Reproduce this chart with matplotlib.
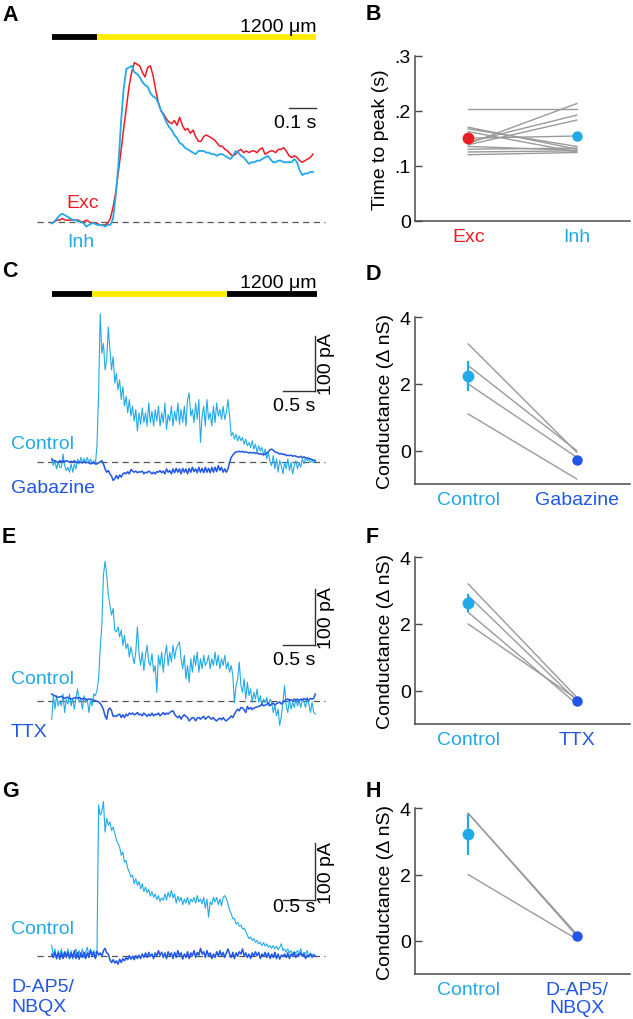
import numpy as np
import matplotlib
matplotlib.use('Agg')
import matplotlib.pyplot as plt

plt.rcParams['font.family'] = ['Liberation Sans', 'DejaVu Sans']
plt.rcParams['font.size'] = 14

W, H = 633, 1020

RED = '#ec1c24'
CYAN = '#22aae8'
BLUE = '#2156e6'
GRAY = '#9a9a9a'
AXC = '#4a4a4a'
LBL = 15.5

# ── Data ──────────────────────────────────────────────────────────────────────

# A: normalised Exc / Inh currents, 10 ms sampling
DT_A = 0.01
exc_a = [-0.01, 0.00, 0.01, 0.01, 0.02, 0.01, 0.01, 0.01, 0.01, 0.01,
         0.01, 0.00, 0.00, 0.01, 0.00, -0.01, -0.01, -0.01, -0.02, -0.02,
         -0.02, -0.01, 0.02, 0.09, 0.18, 0.31, 0.44, 0.58, 0.71, 0.84,
         0.93, 0.99, 0.98, 0.97, 0.93, 0.90, 0.96, 0.97, 0.91, 0.82,
         0.74, 0.69, 0.67, 0.64, 0.62, 0.61, 0.63, 0.60, 0.65, 0.60,
         0.57, 0.58, 0.55, 0.57, 0.53, 0.50, 0.50, 0.53, 0.54, 0.53,
         0.52, 0.51, 0.49, 0.47, 0.47, 0.45, 0.44, 0.42, 0.41, 0.42,
         0.44, 0.45, 0.43, 0.44, 0.43, 0.44, 0.44, 0.43, 0.45, 0.46,
         0.42, 0.43, 0.44, 0.44, 0.43, 0.45, 0.45, 0.46, 0.44, 0.41,
         0.40, 0.41, 0.40, 0.38, 0.37, 0.38, 0.39, 0.40, 0.42]
inh_a = [-0.01, 0.00, 0.02, 0.04, 0.05, 0.04, 0.03, 0.02, 0.01, 0.01,
         0.00, 0.00, -0.01, -0.03, -0.02, -0.01, -0.01, -0.02, -0.02, -0.02,
         -0.03, -0.02, -0.02, 0.02, 0.16, 0.35, 0.62, 0.83, 0.95, 0.96,
         0.97, 0.93, 0.92, 0.90, 0.87, 0.85, 0.84, 0.80, 0.78, 0.77,
         0.74, 0.69, 0.66, 0.62, 0.59, 0.57, 0.54, 0.52, 0.49, 0.48,
         0.46, 0.45, 0.44, 0.43, 0.42, 0.44, 0.44, 0.44, 0.43, 0.43,
         0.42, 0.42, 0.41, 0.42, 0.42, 0.41, 0.40, 0.39, 0.41, 0.44,
         0.43, 0.41, 0.40, 0.38, 0.36, 0.37, 0.37, 0.38, 0.38, 0.39,
         0.40, 0.41, 0.39, 0.37, 0.37, 0.38, 0.38, 0.37, 0.37, 0.37,
         0.37, 0.39, 0.37, 0.32, 0.29, 0.30, 0.30, 0.31, 0.31]
STIM_A = (0.0, 0.17, 0.99)          # dark until 0.17 s, then light

# B: time to peak (s)
tpk_exc = [0.203, 0.170, 0.167, 0.162, 0.150, 0.143, 0.140, 0.138, 0.135, 0.130, 0.125, 0.120]
tpk_inh = [0.203, 0.130, 0.135, 0.125, 0.154, 0.192, 0.213, 0.183, 0.128, 0.132, 0.127, 0.124]
tpk_mean = [0.150, 0.154]
tpk_err = [0.0, 0.0]

# C/E/G: currents (pA), 25 ms sampling
DT = 0.025
ctrl_c = [6, -6, 3, -12, 0, -9, -9, 15, -6, -15, -9, -18, -3, -18, -3, -12, 6, -3, 9, -1,
          7, 0, 9, -1, 6, -3, 3, -3, 30, 126, 270, 198, 216, 168, 186, 246, 204, 168, 192, 144,
          162, 132, 150, 114, 138, 102, 120, 90, 114, 84, 102, 75, 96, 57, 90, 69, 99, 72, 90, 66,
          108, 72, 93, 66, 96, 75, 102, 66, 90, 72, 108, 60, 87, 75, 102, 66, 93, 75, 108, 69,
          96, 72, 102, 66, 114, 126, 84, 96, 72, 108, 78, 114, 36, 84, 102, 66, 114, 78, 90, 66,
          102, 72, 108, 84, 96, 78, 102, 78, 90, 114, 84, 48, 54, 42, 51, 39, 48, 39, 45, 33,
          42, 30, 36, 27, 39, 24, 33, 18, 30, 21, 27, 12, 24, 6, 18, 0, -6, 12, -12, 6,
          -18, 3, -6, -21, 0, -12, 6, -15, 0, -21, -6, 3, -12, 0, -9, 6, -3, 9, 3, 6,
          0, 3, -1, 3]
gbz_c = [6, 3, 3, 1, 0, 3, 1, 3, 1, 3, 2, 0, 2, 0, 3, 0, -1, 1, 0, -1,
         1, -1, 0, -1, -3, -1, -1, -3, -3, -1, 1, 3, -3, -12, -18, -15, -21, -25, -33, -30,
         -24, -30, -23, -27, -21, -19, -21, -17, -21, -13, -16, -18, -16, -19, -17, -18, -16, -21, -18, -19,
         -16, -18, -21, -18, -21, -17, -18, -15, -19, -16, -21, -12, -18, -15, -21, -12, -19, -11, -18, -12,
         -21, -11, -18, -12, -21, -11, -18, -9, -17, -12, -19, -9, -18, -11, -19, -9, -18, -11, -19, -9,
         -18, -9, -17, -6, -15, -9, -18, -12, -18, -12, 0, 9, 13, 17, 19, 19, 20, 19, 20, 18,
         19, 18, 17, 18, 17, 18, 16, 17, 15, 16, 14, 15, 14, 17, 19, 23, 24, 22, 19, 18,
         17, 15, 16, 14, 15, 12, 13, 12, 13, 11, 12, 11, 10, 9, 11, 8, 10, 8, 8, 7,
         6, 5, 4, 3]
STIM_C = (0.0, 0.62, 2.71, 4.1)     # dark, light, dark

ctrl_e = [-32, 10, -14, 10, -8, 1, -8, 13, -20, 4, -5, 13, -8, 4, -14, 7, 22, -2, 4, -14,
          10, -2, 4, -20, 1, -8, 13, 10, 19, 40, 94, 136, 226, 250, 226, 190, 172, 154, 166, 127,
          124, 133, 115, 127, 100, 118, 94, 103, 79, 97, 82, 67, 88, 133, 85, 64, 88, 55, 82, 100,
          70, 64, 85, 52, 64, 16, 82, 64, 88, 52, 82, 100, 64, 88, 70, 100, 76, 94, 100, 106,
          76, 58, 82, 40, 64, 34, 76, 52, 82, 64, 88, 52, 76, 58, 82, 64, 70, 82, 58, 76,
          64, 88, 64, 82, 58, 76, 64, 82, 58, 70, 52, 64, 46, -2, 28, 40, 70, 28, 16, 40,
          4, 34, 10, 22, -2, 16, 4, 22, -2, 10, -8, 4, -2, 7, -8, 4, -2, -20, -8, -26,
          -14, -43, -26, -2, 28, -8, -20, 4, -14, -2, -11, 4, -8, 1, -11, 4, -2, -11, 7, -5,
          -20, -2, -20, -23]
ttx_e = [13, 11, 10, 8, 7, 8, 9, 7, 5, 7, 7, 5, 4, 5, 6, 7, 5, 7, 5, 4,
         5, 4, 3, 4, 4, 3, 2, 1, 0, -1, -4, -8, -15, -26, -32, -15, -12, -17, -27, -26,
         -27, -24, -23, -29, -24, -29, -23, -26, -21, -23, -21, -24, -23, -20, -24, -23, -26, -21, -24, -27,
         -23, -26, -21, -26, -23, -24, -21, -26, -23, -20, -24, -21, -23, -20, -18, -17, -23, -27, -29, -26,
         -32, -27, -24, -27, -29, -35, -32, -29, -30, -35, -30, -29, -32, -29, -27, -32, -29, -27, -30, -32,
         -29, -33, -35, -32, -30, -33, -29, -33, -35, -32, -30, -26, -29, -23, -18, -14, -17, -11, -12, -15,
         -20, -9, -14, -11, -15, -12, -11, -10, -9, -8, -5, -8, -7, -5, -3, -8, -5, -3, -7, -4,
         -3, -1, -5, -2, 1, 3, 4, 1, 3, 1, 4, 2, 4, 1, 4, 2, 5, 3, 4, 2,
         5, 4, 5, 13]

ctrl_g = [19, 1, 13, -5, 10, 1, 13, -2, 7, 1, 13, -2, 10, -5, 7, 13, -2, 10, 1, 13,
          -2, 7, 16, 1, 13, 4, 10, 6, 7, 267, 249, 255, 273, 219, 243, 231, 237, 222, 228, 217,
          205, 199, 193, 178, 184, 166, 169, 155, 149, 140, 143, 128, 137, 125, 132, 119, 128, 114, 122, 112,
          118, 106, 114, 104, 110, 100, 107, 97, 103, 99, 110, 99, 113, 104, 116, 103, 110, 94, 106, 97,
          104, 91, 101, 94, 104, 91, 101, 96, 104, 94, 107, 96, 101, 93, 104, 85, 101, 69, 96, 91,
          104, 96, 104, 91, 101, 89, 104, 107, 102, 93, 81, 75, 66, 67, 57, 60, 53, 55, 48, 50,
          44, 37, 31, 34, 28, 31, 25, 28, 22, 25, 19, 24, 18, 22, 16, 19, 14, 19, 13, 18,
          12, 16, 22, 10, 13, 7, 13, 6, 10, 4, 8, 6, 10, 4, 13, 1, 7, 4, 10, -2,
          6, 2, 4, 1]
nbqx_g = [4, -2, 7, -4, 6, -5, 6, -4, 8, -2, 7, -4, 6, -2, 10, -4, 7, -5, 6, -2,
          7, -4, 6, -2, 10, 1, 7, -4, 9, 2, 6, 0, 10, 14, 6, 4, -6, -11, -6, -12,
          -8, -14, -5, -11, -4, -8, -2, -6, 1, -5, 0, -6, 1, -4, 2, -4, 4, -2, 6, -2,
          7, 0, 4, -4, 6, 1, 10, 2, 7, -2, 6, -4, 8, 1, 6, -4, 7, -2, 10, 1,
          6, -5, 4, -2, 8, -4, 6, 1, 10, -2, 7, 2, 14, 4, 8, -2, 10, 1, 6, -4,
          4, -2, 8, 0, 10, 1, 7, -2, 6, 13, 4, -2, 7, -4, 6, 0, 8, 4, 13, 1,
          6, -2, 4, -4, 6, 0, 8, 1, 7, -4, 4, 0, 7, -2, 6, -4, 4, -2, 7, -4,
          4, -5, 2, 0, 4, -2, 6, -4, 4, 0, 7, -2, 4, 1, 6, 0, 4, -4, 2, 0,
          4, -2, 2, 0]

# D/F/H: conductance (delta nS)
cond_d = ([3.2, 2.55, 2.0, 1.1], [-0.05, 0.0, -0.2, -0.85])
mean_d, err_d = [2.25, -0.28], [0.45, 0.1]
cond_f = ([3.2, 2.85, 2.35, 2.0], [-0.2, -0.3, -0.4, -0.25])
mean_f, err_f = [2.62, -0.3], [0.27, 0.07]
cond_h = ([3.85, 3.85, 2.0], [0.2, 0.15, 0.05])
mean_h, err_h = [3.22, 0.14], [0.62, 0.05]


# ── Layout helpers (pixel boxes) ──────────────────────────────────────────────

fig = plt.figure(figsize=(W / 100, H / 100), dpi=100)


def rect(x0, y0, x1, y1):
    return [x0 / W, 1 - y1 / H, (x1 - x0) / W, (y1 - y0) / H]


def ptext(x, y, s, **kw):
    kw.setdefault('va', 'baseline')
    return fig.text(x / W, 1 - y / H, s, **kw)


def trace_axes(box, xlim, ylim):
    ax = fig.add_axes(rect(*box))
    ax.set_xlim(*xlim)
    ax.set_ylim(*ylim)
    ax.axis('off')
    return ax


def baseline(ax, x0, x1):
    ax.axhline(0, xmin=x0, xmax=x1, color='#555555', lw=0.9,
               dashes=(5, 3.5), clip_on=False, zorder=0)


def stim_bar(ax, edges, colors, y):
    for (a, b), c in zip(zip(edges[:-1], edges[1:]), colors):
        ax.plot([a, b], [y, y], color=c, lw=4.2, solid_capstyle='butt', clip_on=False)


def scale_bar(ax, t1, tlen, y0, ylen=None):
    ax.plot([t1 - tlen, t1], [y0, y0], color='#333333', lw=1.0, clip_on=False)
    if ylen is not None:
        ax.plot([t1, t1], [y0, y0 + ylen], color='#333333', lw=1.0, clip_on=False)


def summary(box, a, b, means, errs, colors, ylim, yticks, yticklabels, xlabels, ylabel):
    ax = fig.add_axes(rect(*box))
    for c, d in zip(a, b):
        ax.plot([0, 1], [c, d], color=GRAY, lw=1.0, zorder=1)
    for i in range(2):
        ax.errorbar(i, means[i], yerr=errs[i], fmt='o', color=colors[i],
                    ms=7.5 if i == 0 else 6.5, elinewidth=1.6, capsize=0, zorder=3)
    ax.set_xlim(-0.49, 1.49)
    ax.set_ylim(*ylim)
    ax.set_yticks(yticks)
    ax.set_yticklabels(yticklabels)
    ax.set_xticks([0, 1])
    ax.set_xticklabels(xlabels, linespacing=1.1)
    for lab, c in zip(ax.get_xticklabels(), colors):
        lab.set_color(c)
    ax.tick_params(axis='x', length=0, pad=5)
    ax.tick_params(axis='y', direction='in', length=5, width=1.0, color=AXC, pad=3)
    for s in ('top', 'right'):
        ax.spines[s].set_visible(False)
    for s in ('left', 'bottom'):
        ax.spines[s].set_color(AXC)
        ax.spines[s].set_linewidth(1.1)
    ax.set_ylabel(ylabel, labelpad=4)
    return ax


# ── A ────────────────────────────────────────────────────────────────────────
t_a = np.arange(len(exc_a)) * DT_A
ax = trace_axes((51.7, 62, 313, 222.7), (t_a[0], t_a[-1]), (0, 1))
baseline(ax, -0.057, 1.045)
ax.plot(t_a, exc_a, color=RED, lw=1.1, clip_on=False)
ax.plot(t_a, inh_a, color=CYAN, lw=1.3, clip_on=False)
stim_bar(ax, STIM_A, ['black', '#ffec00'], 1.15)
scale_bar(ax, 0.99, 0.1, 0.71)
ptext(316, 31.7, '1200 \u03bcm', ha='right')
ptext(316, 128, '0.1 s', ha='right')
ptext(66, 208, 'Exc', color=RED)
ptext(67, 246.7, 'Inh', color=CYAN)
ptext(2, 20.7, 'A', fontweight='bold', fontsize=LBL)

# ── B ────────────────────────────────────────────────────────────────────────
summary((415, 56.7, 630, 221.7), tpk_exc, tpk_inh, tpk_mean, tpk_err, [RED, CYAN],
        (0, 0.3), [0, 0.1, 0.2, 0.3], ['0', '.1', '.2', '.3'], ['Exc', 'Inh'],
        'Time to peak (s)')
ptext(366, 20.5, 'B', fontweight='bold', fontsize=LBL)

# ── C / E / G traces ─────────────────────────────────────────────────────────
t = np.arange(len(ctrl_c)) * DT


def drug_trace(base, ppa, ctrl, drug, ylim):
    box = (51.7, base - ylim[1] * ppa, 315.3, base - ylim[0] * ppa)
    ax = trace_axes(box, (t[0], t[-1]), ylim)
    baseline(ax, -0.056, 1.037)
    ax.plot(t, ctrl, color=CYAN, lw=0.8, clip_on=False, zorder=2)
    ax.plot(t, drug, color=BLUE, lw=1.1, clip_on=False, zorder=3)
    return ax


ax = drug_trace(463.3, 0.55, ctrl_c, gbz_c, (-40, 280))
stim_bar(ax, STIM_C, ['black', '#ffec00', 'black'], 306)
scale_bar(ax, 4.07, 0.5, 130, 100)
ptext(317, 288.3, '1200 \u03bcm', ha='right')
ptext(315, 411, '0.5 s', ha='right')
ptext(318, 364.5, '100 pA', rotation=90, ha='left', va='center')
ptext(11, 449.3, 'Control', color=CYAN)
ptext(11, 493.3, 'Gabazine', color=BLUE)
ptext(2, 277, 'C', fontweight='bold', fontsize=LBL)

ax = drug_trace(702.3, 0.56, ctrl_e, ttx_e, (-50, 260))
scale_bar(ax, 4.07, 0.5, 100, 100)
ptext(315, 665, '0.5 s', ha='right')
ptext(318, 618, '100 pA', rotation=90, ha='left', va='center')
ptext(11, 684.3, 'Control', color=CYAN)
ptext(11, 737.3, 'TTX', color=BLUE)
ptext(2, 543.3, 'E', fontweight='bold', fontsize=LBL)

ax = drug_trace(957.3, 0.567, ctrl_g, nbqx_g, (-20, 280))
scale_bar(ax, 4.07, 0.5, 100, 100)
ptext(315, 911.7, '0.5 s', ha='right')
ptext(318, 873, '100 pA', rotation=90, ha='left', va='center')
ptext(11, 934.3, 'Control', color=CYAN)
ptext(11, 992.3, 'D-AP5/', color=BLUE)
ptext(11, 1011.7, 'NBQX', color=BLUE)
ptext(2, 796.7, 'G', fontweight='bold', fontsize=LBL)

# ── D / F / H ────────────────────────────────────────────────────────────────
cond_ticks = ([0, 2, 4], ['0', '2', '4'])
summary((415, 318.3, 630, 485), *cond_d, mean_d, err_d, [CYAN, BLUE], (-1, 4),
        *cond_ticks, ['Control', 'Gabazine'], 'Conductance (\u0394 nS)')
ptext(366, 280, 'D', fontweight='bold', fontsize=LBL)
summary((415, 558.3, 630, 725), *cond_f, mean_f, err_f, [CYAN, BLUE], (-1, 4),
        *cond_ticks, ['Control', 'TTX'], 'Conductance (\u0394 nS)')
ptext(366, 543.3, 'F', fontweight='bold', fontsize=LBL)
summary((415, 809.3, 630, 975), *cond_h, mean_h, err_h, [CYAN, BLUE], (-1, 4),
        *cond_ticks, ['Control', 'D-AP5/\nNBQX'], 'Conductance (\u0394 nS)')
ptext(366, 796.7, 'H', fontweight='bold', fontsize=LBL)

fig.savefig('out.png', dpi=100)
